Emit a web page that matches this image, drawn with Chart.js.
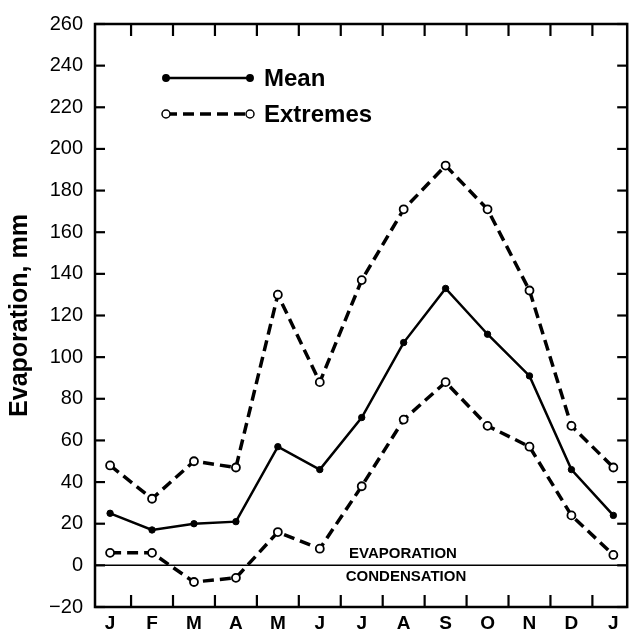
<!DOCTYPE html>
<html>
<head>
<meta charset="utf-8">
<script src="https://cdn.jsdelivr.net/npm/chart.js@4.4.1/dist/chart.umd.min.js"></script>
<style>
  html, body { margin: 0; padding: 0; background: #fff; }
  #wrap { width: 633px; height: 638px; }
</style>
</head>
<body>
<div id="wrap"><canvas id="evapChart"></canvas></div>
<script>
// Monthly evaporation, mm (Jan .. Dec, then Jan again)
const months = ['J', 'F', 'M', 'A', 'M', 'J', 'J', 'A', 'S', 'O', 'N', 'D', 'J'];
const meanValues = [25, 17, 20, 21, 57, 46, 71, 107, 133, 111, 91, 46, 24];
const upperExtremes = [48, 32, 50, 47, 130, 88, 137, 171, 192, 171, 132, 67, 47];
const lowerExtremes = [6, 6, -8, -6, 16, 8, 38, 70, 88, 67, 57, 24, 5];
const yTicks = [-20, 0, 20, 40, 60, 80, 100, 120, 140, 160, 180, 200, 220, 240, 260];

const FONT = '"Liberation Sans", Arial, Helvetica, sans-serif';

function toPoints(values) {
    return values.map((v, i) => ({ x: i, y: v }));
}

// frame, inward ticks, zero line, legend and the evaporation/condensation notes
const decorations = {
    id: 'decorations',
    afterDatasetsDraw(chart) {
        const ctx = chart.ctx;
        const area = chart.chartArea;
        const xs = chart.scales.x;
        const ys = chart.scales.y;
        ctx.save();
        ctx.setLineDash([]);
        ctx.lineCap = 'butt';
        ctx.strokeStyle = '#000';

        // zero line
        const y0 = ys.getPixelForValue(0);
        ctx.lineWidth = 1.5;
        ctx.beginPath();
        ctx.moveTo(area.left, y0);
        ctx.lineTo(area.right, y0);
        ctx.stroke();

        // inward ticks
        ctx.lineWidth = 2.2;
        yTicks.forEach(v => {
            const y = ys.getPixelForValue(v);
            ctx.beginPath();
            ctx.moveTo(area.left, y);
            ctx.lineTo(area.left + 10, y);
            ctx.stroke();
            ctx.beginPath();
            ctx.moveTo(area.right, y);
            ctx.lineTo(area.right - 10, y);
            ctx.stroke();
        });
        for (let i = 0; i < months.length - 1; i++) {
            const x = xs.getPixelForValue(i + 0.5);
            ctx.beginPath();
            ctx.moveTo(x, area.bottom);
            ctx.lineTo(x, area.bottom - 12);
            ctx.stroke();
            ctx.beginPath();
            ctx.moveTo(x, area.top);
            ctx.lineTo(x, area.top + 12);
            ctx.stroke();
        }

        // frame
        ctx.lineWidth = 2.5;
        ctx.strokeRect(area.left, area.top, area.right - area.left, area.bottom - area.top);

        // notes either side of the zero line
        ctx.fillStyle = '#000';
        ctx.font = 'bold 15px ' + FONT;
        ctx.textAlign = 'center';
        ctx.textBaseline = 'middle';
        ctx.fillText('EVAPORATION', 403, y0 - 11);
        ctx.fillText('CONDENSATION', 406, y0 + 12);

        // legend
        const items = [
            { label: 'Mean', ds: chart.data.datasets[0], y: 78 },
            { label: 'Extremes', ds: chart.data.datasets[1], y: 114 }
        ];
        items.forEach(it => {
            ctx.lineWidth = it.ds.borderWidth;
            ctx.setLineDash(it.ds.borderDash || []);
            ctx.beginPath();
            ctx.moveTo(166, it.y);
            ctx.lineTo(250, it.y);
            ctx.stroke();
            ctx.setLineDash([]);
            [166, 250].forEach(x => {
                ctx.beginPath();
                ctx.arc(x, it.y, it.ds.pointRadius, 0, Math.PI * 2);
                ctx.fillStyle = it.ds.pointBackgroundColor;
                ctx.fill();
                ctx.lineWidth = 1.5;
                ctx.stroke();
            });
            ctx.fillStyle = '#000';
            ctx.font = 'bold 24px ' + FONT;
            ctx.textAlign = 'left';
            ctx.fillText(it.label, 264, it.y + 1);
        });
        ctx.restore();
    }
};

const extremeStyle = {
    borderColor: '#000',
    borderWidth: 3.5,
    borderDash: [11, 6],
    pointRadius: 4,
    pointBackgroundColor: '#fff',
    pointBorderColor: '#000',
    pointBorderWidth: 1.8,
    fill: false,
    tension: 0
};

const ctx = document.getElementById('evapChart').getContext('2d');

new Chart(ctx, {
    type: 'line',
    data: {
        datasets: [
            {
                label: 'Mean',
                data: toPoints(meanValues),
                borderColor: '#000',
                borderWidth: 2.5,
                pointRadius: 3.2,
                pointBackgroundColor: '#000',
                pointBorderColor: '#000',
                pointBorderWidth: 1,
                fill: false,
                tension: 0
            },
            Object.assign({ label: 'Extremes', data: toPoints(upperExtremes) }, extremeStyle),
            Object.assign({ label: 'Extremes (low)', data: toPoints(lowerExtremes) }, extremeStyle)
        ]
    },
    options: {
        responsive: true,
        maintainAspectRatio: false,
        animation: false,
        layout: { padding: { top: 17, right: 5, left: 0, bottom: 0 } },
        plugins: {
            legend: { display: false },
            tooltip: { enabled: false }
        },
        scales: {
            x: {
                type: 'linear',
                min: -0.36,
                max: 12.33,
                border: { display: false },
                grid: { display: false, drawTicks: false },
                afterFit: scale => { scale.height = 31; },
                ticks: {
                    stepSize: 1,
                    includeBounds: false,
                    autoSkip: false,
                    maxRotation: 0,
                    padding: 5,
                    color: '#000',
                    font: { family: FONT, size: 19, weight: 'bold' },
                    callback: v => Number.isInteger(v) ? months[v] : ''
                }
            },
            y: {
                min: -20,
                max: 260,
                border: { display: false },
                grid: { display: false, drawTicks: false },
                afterFit: scale => { scale.width = 95; },
                title: {
                    display: true,
                    text: 'Evaporation, mm',
                    color: '#000',
                    font: { family: FONT, size: 25, weight: 'bold' },
                    padding: { top: 5, bottom: 0 }
                },
                ticks: {
                    stepSize: 20,
                    padding: 12,
                    color: '#000',
                    font: { family: FONT, size: 20 },
                    callback: v => v < 0 ? '\u2212' + Math.abs(v) : v
                }
            }
        }
    },
    plugins: [decorations]
});
</script>
</body>
</html>
